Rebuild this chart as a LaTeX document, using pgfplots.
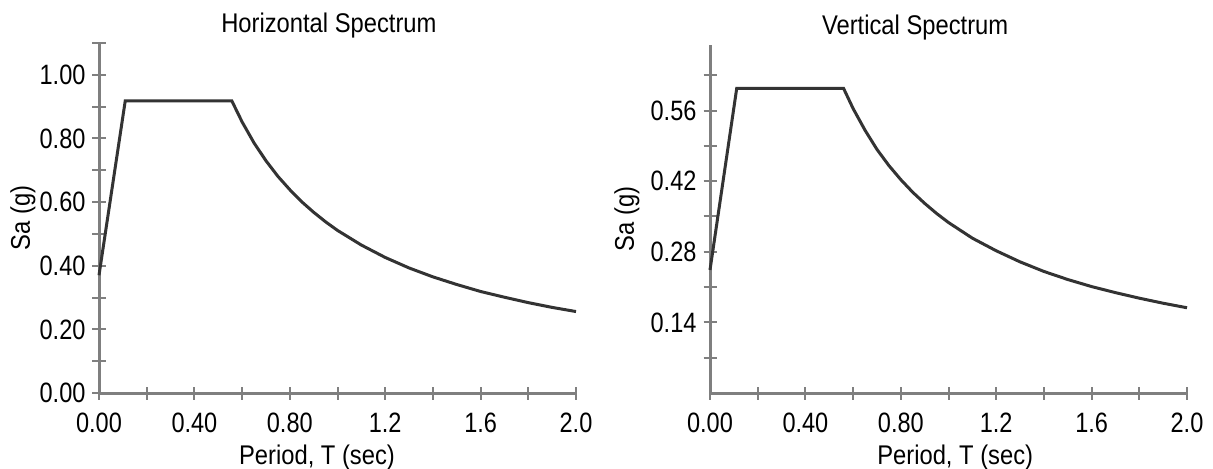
\documentclass[border=0pt]{standalone}
\usepackage{pgfplots}
\pgfplotsset{compat=1.18}
\usepackage{fontspec}
\setmainfont[FakeStretch=0.88]{Liberation Sans}
\newfontfamily\tickfont[FakeStretch=0.84]{Liberation Sans}
\definecolor{axgray}{HTML}{7F7F7F}
\definecolor{curvec}{HTML}{333333}

\pgfplotsset{specax/.style={
  scale only axis, width=238.5pt,
  axis lines*=left,
  axis line style={axgray, line width=1.5pt},
  tick align=center,
  major tick length=6.5pt, minor tick length=6.5pt,
  every tick/.style={axgray, line width=1pt},
  xmin=0, xmax=2, ymin=0,
  xtick={0,0.4,0.8,1.2,1.6,2.0},
  xticklabels={0.00,0.40,0.80,1.2,1.6,2.0},
  minor xtick={0.2,0.6,1.0,1.4,1.8},
  tick label style={font=\tickfont\fontsize{14}{14}\selectfont, text=black},
  xticklabel style={yshift=-3pt},
  /pgf/number format/assume math mode=true,
  label style={font=\fontsize{13.5}{14}\selectfont},
  title style={font=\fontsize{13.5}{14}\selectfont, anchor=south, yshift=-7pt},
  xlabel={Period, T (sec)},
  ylabel={Sa (g)},
  clip=false,
}}

\begin{document}
\begin{tikzpicture}
\path[use as bounding box] (0,0) rectangle (606.5pt,-234.5pt);

% horizontal spectrum
\begin{axis}[specax,
  at={(49.5pt,-196.5pt)}, anchor=south west,
  height=175pt, ymax=1.1,
  ytick={0,0.2,0.4,0.6,0.8,1.0},
  yticklabels={0.00,0.20,0.40,0.60,0.80,1.00},
  minor ytick={0.1,0.3,0.5,0.7,0.9,1.1},
  title={Horizontal Spectrum},
  title style={at={(0.482,1)}},
  xlabel style={at={(rel axis cs:0.457,0)}, anchor=center, yshift=-32.5pt},
  ylabel style={at={(rel axis cs:0,0.5)}, anchor=center, yshift=38pt},
]
\addplot[curvec, line width=1.5pt] coordinates {
  (0,0.37) (0.11,0.918) (0.557,0.918)
  (0.6,0.852) (0.65,0.786) (0.7,0.730) (0.75,0.681) (0.8,0.639)
  (0.85,0.601) (0.9,0.568) (0.95,0.538) (1.0,0.511) (1.1,0.465)
  (1.2,0.426) (1.3,0.393) (1.4,0.365) (1.5,0.341) (1.6,0.319)
  (1.7,0.301) (1.8,0.284) (1.9,0.269) (2.0,0.256)
};
\end{axis}

% vertical spectrum
\begin{axis}[specax,
  at={(355pt,-196.5pt)}, anchor=south west,
  height=174pt, ymax=0.69,
  ytick={0.14,0.28,0.42,0.56},
  yticklabels={0.14,0.28,0.42,0.56},
  minor ytick={0.07,0.21,0.35,0.49,0.63},
  title={Vertical Spectrum},
  title style={at={(0.43,1)}},
  xlabel style={at={(rel axis cs:0.514,0)}, anchor=center, yshift=-32.5pt},
  ylabel style={at={(rel axis cs:0,0.5)}, anchor=center, yshift=41.5pt},
]
\addplot[curvec, line width=1.5pt] coordinates {
  (0,0.244) (0.112,0.604) (0.56,0.604)
  (0.6,0.564) (0.65,0.521) (0.7,0.483) (0.75,0.451) (0.8,0.423)
  (0.85,0.398) (0.9,0.376) (0.95,0.356) (1.0,0.338) (1.1,0.307)
  (1.2,0.282) (1.3,0.260) (1.4,0.241) (1.5,0.225) (1.6,0.211)
  (1.7,0.199) (1.8,0.188) (1.9,0.178) (2.0,0.169)
};
\end{axis}
\end{tikzpicture}
\end{document}
